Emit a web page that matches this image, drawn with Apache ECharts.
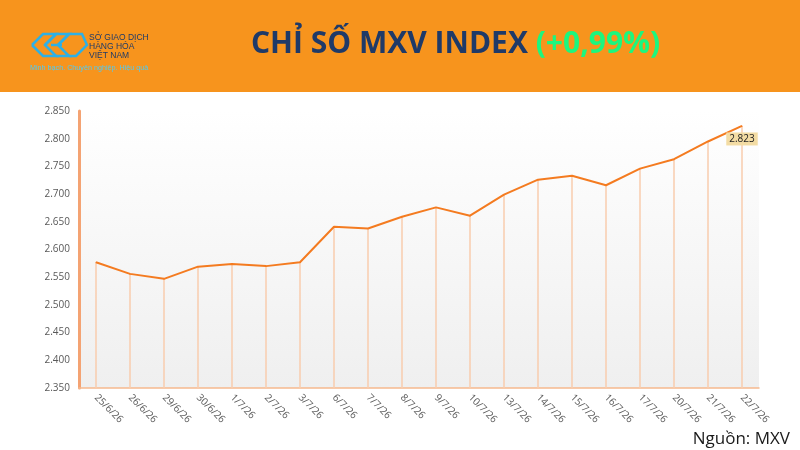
<!DOCTYPE html>
<html lang="vi">
<head>
    <meta charset="utf-8">
    <title>Chỉ số MXV Index</title>
    <script src="https://cdn.jsdelivr.net/npm/echarts@6.0.0/dist/echarts.min.js"></script>
    <style>
        html, body { margin: 0; padding: 0; background: #fff; }
        #main { width: 800px; height: 450px; }
    </style>
</head>
<body>
<div id="main"></div>
<script type="text/javascript">
    // ngày giao dịch
    var dates = ['25/6/26', '26/6/26', '29/6/26', '30/6/26', '1/7/26', '2/7/26', '3/7/26', '6/7/26', '7/7/26', '8/7/26',
        '9/7/26', '10/7/26', '13/7/26', '14/7/26', '15/7/26', '16/7/26', '17/7/26', '20/7/26', '21/7/26', '22/7/26'];
    // giá trị chỉ số MXV
    var mxvIndex = [2577, 2556, 2547, 2569, 2574, 2570, 2577, 2641, 2638, 2659,
        2676, 2661, 2699, 2726, 2733, 2716, 2746, 2763, 2795, 2823];
    var yTicks = [2350, 2850, 50];

    function fmt(v) {
        return String(v).replace(/\B(?=(\d{3})+(?!\d))/g, '.');
    }

    // chỉ hiện nhãn ở điểm cuối
    var lineData = mxvIndex.map(function (v, i) {
        if (i === mxvIndex.length - 1) {
            return {
                value: v,
                label: {
                    show: true,
                    position: 'bottom',
                    distance: 6,
                    formatter: function (p) { return fmt(p.value); },
                    backgroundColor: '#F3DCA4',
                    color: '#222',
                    fontSize: 10,
                    fontFamily: 'Open Sans',
                    padding: [2, 3, 1, 3]
                }
            };
        }
        return v;
    });

    var myChart = echarts.init(document.getElementById('main'));
    var option = {
        backgroundColor: '#fff',
        animation: false,
        graphic: [
            // dải tiêu đề màu cam
            { type: 'rect', shape: { x: 0, y: 0, width: 800, height: 92 }, style: { fill: '#F7941D' }, z: -10 },
            {
                type: 'text', x: 251, y: 44,
                style: {
                    text: '{a|CHỈ SỐ MXV INDEX }{b|(+0,99%)}',
                    verticalAlign: 'middle',
                    rich: {
                        a: { fontSize: 30, fontWeight: 'bold', fontFamily: 'Open Sans', fill: '#1F3A68' },
                        b: { fontSize: 30, fontWeight: 'bold', fontFamily: 'Open Sans', fill: '#1CF67E' }
                    }
                }
            },
            // logo
            {
                type: 'group', x: 32, y: 32,
                children: [
                    { type: 'polyline', shape: { points: [[0, 13], [11, 2], [24, 2], [13, 13], [24, 24], [11, 24], [0, 13]] }, style: { stroke: '#2DB0E6', lineWidth: 2.5, fill: null } },
                    { type: 'polyline', shape: { points: [[13, 13], [24, 2], [37, 2], [26, 13], [37, 24], [24, 24]] }, style: { stroke: '#2DB0E6', lineWidth: 2.5, fill: null } },
                    { type: 'polyline', shape: { points: [[26, 13], [37, 2], [50, 2], [55, 13], [44, 24], [37, 24]] }, style: { stroke: '#2DB0E6', lineWidth: 2.5, fill: null } },
                    { type: 'polyline', shape: { points: [[19, 13], [30, 13]] }, style: { stroke: '#2DB0E6', lineWidth: 2.5, fill: null } }
                ]
            },
            {
                type: 'text', x: 89, y: 33,
                style: { text: 'SỞ GIAO DỊCH\nHÀNG HÓA\nVIỆT NAM', fontSize: 8.5, lineHeight: 9, fontFamily: 'Liberation Sans', fill: '#1F3A68' }
            },
            {
                type: 'text', x: 30, y: 65,
                style: { text: 'Minh bạch. Chuyên nghiệp. Hiệu quả', fontSize: 7.2, fontFamily: 'Liberation Sans', fill: '#4DCBF7' }
            },
            {
                type: 'text', right: 10, bottom: 2,
                style: { text: 'Nguồn: MXV', fontSize: 17, fontFamily: 'Open Sans', fill: '#1a1a1a' }
            }
        ],
        grid: {
            left: 79, right: 41, top: 111, bottom: 62,
            show: true,
            borderWidth: 0,
            backgroundColor: new echarts.graphic.LinearGradient(0, 0, 0, 1, [
                { offset: 0, color: '#FFFFFF' },
                { offset: 1, color: '#EFEFEF' }
            ])
        },
        xAxis: {
            type: 'category',
            data: dates,
            boundaryGap: true,
            axisLine: { lineStyle: { color: '#F6B98E', width: 1.5 } },
            axisTick: { show: false },
            axisLabel: {
                rotate: -45,
                color: '#595959',
                fontSize: 10,
                fontFamily: 'Open Sans',
                margin: 8,
                interval: 0
            }
        },
        yAxis: {
            type: 'value',
            min: yTicks[0],
            max: yTicks[1],
            interval: yTicks[2],
            axisLine: { show: true, lineStyle: { color: '#F4A373', width: 3 } },
            axisTick: { show: false },
            splitLine: { show: false },
            axisLabel: {
                color: '#595959',
                fontSize: 10,
                fontFamily: 'Open Sans',
                margin: 9,
                formatter: fmt
            }
        },
        series: [
            {
                type: 'bar',
                data: mxvIndex,
                barWidth: 1.5,
                itemStyle: { color: '#F9CDAE' },
                silent: true,
                z: 1
            },
            {
                type: 'line',
                data: lineData,
                showSymbol: true,
                symbol: 'circle',
                symbolSize: 1,
                itemStyle: { color: '#F47B20' },
                lineStyle: { color: '#F47B20', width: 2 },
                z: 3
            }
        ]
    };
    myChart.setOption(option);
</script>
</body>
</html>
